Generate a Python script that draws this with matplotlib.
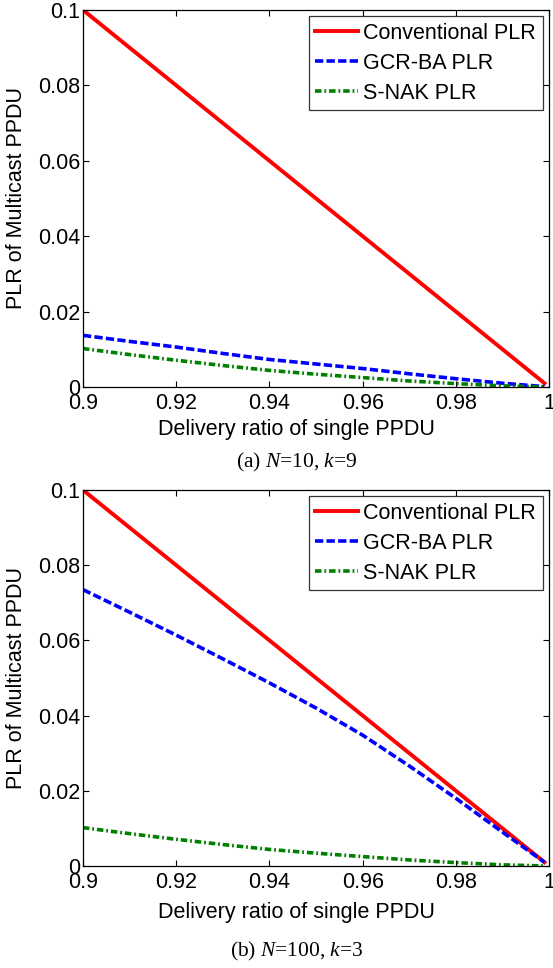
import matplotlib
matplotlib.use('Agg')
import matplotlib.pyplot as plt

plt.rcParams['font.family'] = ['Liberation Sans', 'DejaVu Sans']
plt.rcParams['mathtext.fontset'] = 'custom'
plt.rcParams['mathtext.rm'] = 'Liberation Serif'
plt.rcParams['mathtext.it'] = 'Liberation Serif:italic'

# delivery ratio of single PPDU
ratio = [0.9, 0.91, 0.92, 0.93, 0.94, 0.95, 0.96, 0.97, 0.98, 0.99, 0.999]

# (a) N=10, k=9
conv_a = [0.1, 0.09, 0.08, 0.07, 0.06, 0.05, 0.04, 0.03, 0.02, 0.01, 0.001]
gcr_a = [0.0137, 0.0121, 0.0106, 0.0089, 0.0073, 0.0061, 0.0049, 0.0035, 0.0022, 0.0010, 0.0001]
snak_a = [0.0102, 0.0086, 0.0071, 0.0057, 0.0044, 0.0034, 0.0025, 0.0016, 0.0009, 0.0003, 0.0]

# (b) N=100, k=3
conv_b = [0.1, 0.09, 0.08, 0.07, 0.06, 0.05, 0.04, 0.03, 0.02, 0.01, 0.001]
gcr_b = [0.0735, 0.0675, 0.0614, 0.0551, 0.0487, 0.0420, 0.0348, 0.0266, 0.0180, 0.0090, 0.001]
snak_b = [0.0102, 0.0086, 0.0071, 0.0057, 0.0044, 0.0034, 0.0025, 0.0016, 0.0009, 0.0003, 0.0]

xticks = [0.9, 0.92, 0.94, 0.96, 0.98, 1.0]
xtick_labels = ['0.9', '0.92', '0.94', '0.96', '0.98', '1']
yticks = [0, 0.02, 0.04, 0.06, 0.08, 0.1]
ytick_labels = ['0', '0.02', '0.04', '0.06', '0.08', '0.1']

captions = [r'(a) $N$=10, $k$=9', r'(b) $N$=100, $k$=3']
xlabel_y = [-0.086, -0.095]
caption_y = [-0.201, -0.228]

fig = plt.figure(figsize=(5.53, 9.68), dpi=100)
ax_top = fig.add_axes([0.150, 0.6002, 0.843, 0.3895])
ax_bot = fig.add_axes([0.150, 0.1054, 0.843, 0.3884])

panels = [(ax_top, conv_a, gcr_a, snak_a), (ax_bot, conv_b, gcr_b, snak_b)]

for i, (ax, conv, gcr, snak) in enumerate(panels):
    ax.plot(ratio, conv, color='#ff0000', lw=2.8, label='Conventional PLR')
    ax.plot(ratio, gcr, color='#0000ff', lw=2.6, dashes=(2.3, 0.9), label='GCR-BA PLR')
    ax.plot(ratio, snak, color='#008000', lw=2.6, dashes=(1.8, 0.8, 0.5, 0.8), label='S-NAK PLR')
    ax.set_xlim(0.9, 1.0)
    ax.set_ylim(0, 0.1)
    ax.set_xticks(xticks)
    ax.set_xticklabels(xtick_labels)
    ax.set_yticks(yticks)
    ax.set_yticklabels(ytick_labels)
    ax.tick_params(direction='in', top=True, right=True, length=4, width=0.8,
                   labelsize=15.5)
    ax.tick_params(axis='x', pad=4)
    ax.tick_params(axis='y', pad=2)
    for s in ax.spines.values():
        s.set_linewidth(0.9)
    ax.set_xlabel('Delivery ratio of single PPDU', fontsize=15.5)
    ax.xaxis.set_label_coords(0.459, xlabel_y[i])
    ax.set_ylabel('PLR of Multicast PPDU', fontsize=15.5)
    ax.yaxis.set_label_coords(-0.120, 0.5)
    leg = ax.legend(loc='upper right', fontsize=15.5, frameon=True, fancybox=False,
                    handlelength=2.0, handletextpad=0.25, borderpad=0.3,
                    labelspacing=0.42, borderaxespad=0.3)
    leg.get_frame().set_edgecolor('black')
    leg.get_frame().set_linewidth(0.9)
    ax.text(0.459, caption_y[i], captions[i], transform=ax.transAxes, ha='center',
            va='center', fontsize=15.5, family='Liberation Serif')

fig.savefig('out.png', dpi=100)
